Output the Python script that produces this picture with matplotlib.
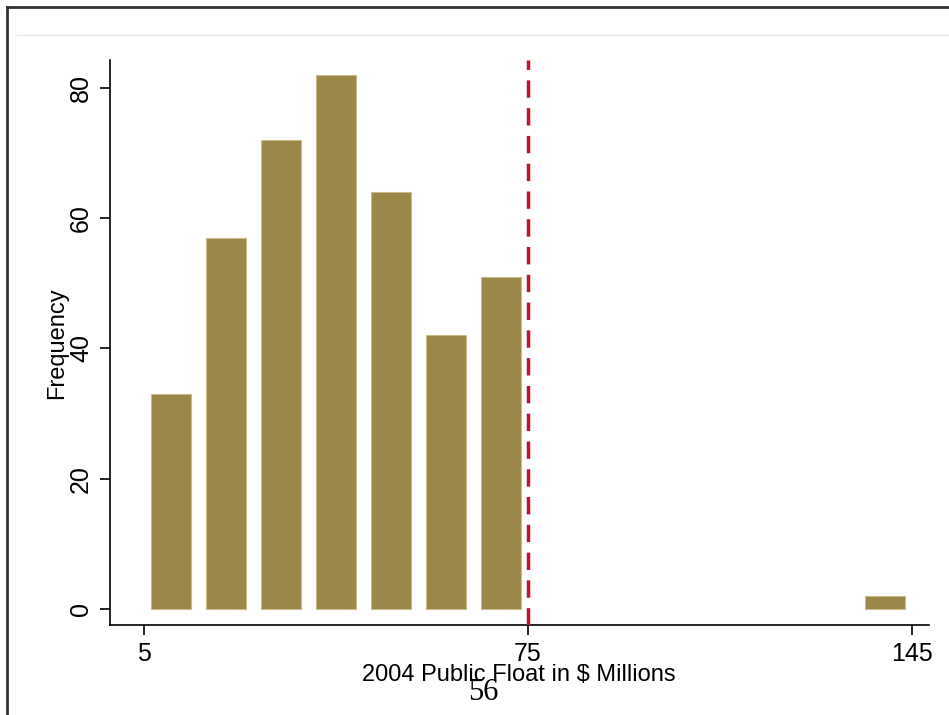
import matplotlib
matplotlib.use("Agg")
import matplotlib.pyplot as plt
from matplotlib.lines import Line2D

# histogram bins (midpoints, $ millions) and counts
bin_centers = [10, 20, 30, 40, 50, 60, 70, 140]
frequencies = [33, 57, 72, 82, 64, 42, 51, 2]
bar_width = 7.3
cutoff = 75
x_ticks = [5, 75, 145]
y_ticks = [0, 20, 40, 60, 80]

W, H = 949, 715
fig = plt.figure(figsize=(W / 100, H / 100), dpi=100)
plt.rcParams["font.family"] = ["Liberation Sans", "DejaVu Sans"]

# axes placed in pixel terms
left, right, top, bottom = 110, 929, 60, 625
ax = fig.add_axes([left / W, 1 - bottom / H, (right - left) / W, (bottom - top) / H])

ax.bar(bin_centers, frequencies, width=bar_width, color="#9b8748",
       edgecolor="#c9bb8a", linewidth=0.8, zorder=2)
ax.axvline(cutoff, color="#c8102e", linestyle=(0, (5, 3)), linewidth=2.5, zorder=3)

ax.set_xlim(-1.2, 148.1)
ax.set_ylim(-2.46, 84.3)
ax.set_xticks(x_ticks)
ax.set_yticks(y_ticks)
ax.tick_params(axis="both", labelsize=18, length=7.2, width=1.2, color="black", pad=5)
for lbl in ax.get_yticklabels():
    lbl.set_rotation(90)
    lbl.set_va("center")
for s in ["top", "right"]:
    ax.spines[s].set_visible(False)
for s in ["left", "bottom"]:
    ax.spines[s].set_linewidth(1.2)

ax.set_xlabel("2004 Public Float in $ Millions", fontsize=17)
ax.set_ylabel("Frequency", fontsize=17)
ax.xaxis.set_label_coords(519 / W, 1 - 675 / H, transform=fig.transFigure)
ax.yaxis.set_label_coords(57 / W, 1 - 343 / H, transform=fig.transFigure)
ax.xaxis.label.set_va("center")
ax.yaxis.label.set_va("center")

# page frame and page number
fig.add_artist(Line2D([7 / W, 7 / W], [0, 1 - 7 / H], color="#333333", linewidth=2))
fig.add_artist(Line2D([7 / W, 1], [1 - 7 / H, 1 - 7 / H], color="#333333", linewidth=2))
fig.add_artist(Line2D([17 / W, 1], [1 - 35 / H, 1 - 35 / H], color="#e6e6e6", linewidth=1))
fig.text(483 / W, 1 - 693 / H, "56", family=["Liberation Serif", "DejaVu Serif"],
         fontsize=22, ha="center", va="center")

fig.savefig("out.png", dpi=100)
plt.close(fig)
